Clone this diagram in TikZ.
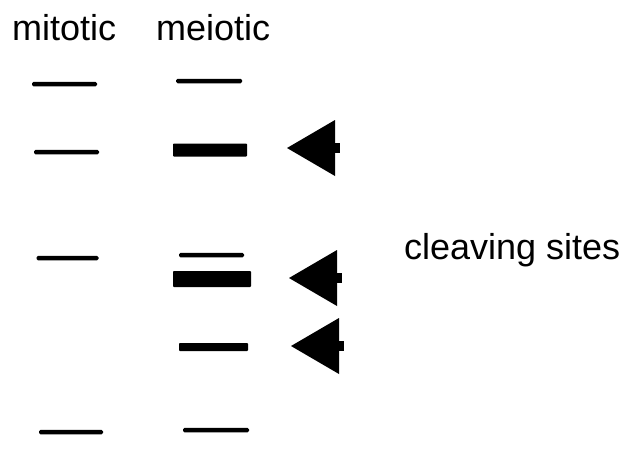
\documentclass[tikz,border=0pt]{standalone}
\usepackage{fontspec}
\setmainfont{Liberation Sans}
\begin{document}
\begin{tikzpicture}[x=1pt,y=-1pt,
  lbl/.style={anchor=base west,inner sep=0pt,font=\fontsize{36}{40}\selectfont},
  band/.style={fill=black,inner sep=0pt,rounded corners=1.5pt,minimum height=4.5pt},
  thickband/.style={fill=black,inner sep=0pt,rounded corners=0.8pt},
  pointer/.style={fill=black}]
\useasboundingbox (0,0) rectangle (632,450);
% lane titles
\node[lbl] (tmit) at (12,40) {mitotic};
\node[lbl] (tmei) at (156,40) {meiotic};
\node[lbl] (tcut) at (404,259) {cleaving sites};
% mitotic lane
\node[band,minimum width=65pt] (m1) at (64.5,84) {};
\node[band,minimum width=65pt] (m2) at (66.5,152) {};
\node[band,minimum width=62pt] (m3) at (67.5,258) {};
\node[band,minimum width=64pt] (m4) at (71,432) {};
% meiotic lane
\node[band,minimum width=66pt] (e1) at (209,81) {};
\node[thickband,minimum width=74pt,minimum height=13pt] (e2) at (210,150) {};
\node[band,minimum width=65pt] (e3) at (211.5,255) {};
\node[thickband,minimum width=78pt,minimum height=16pt] (e4) at (212,279) {};
\node[thickband,minimum width=69pt,minimum height=8pt] (e5) at (213.5,347) {};
\node[band,minimum width=66pt] (e6) at (216,430) {};
% pointers marking the cleaving sites
\coordinate (p1) at (287,148);
\coordinate (p2) at (289,278);
\coordinate (p3) at (291,346);
\foreach \p in {p1,p2,p3}{
  \fill[pointer] (\p) -- ++(48,-28) -- ++(0,56) -- cycle;
  \fill[pointer] ([shift={(46,-5)}]\p) rectangle ++(7,10);
}
\end{tikzpicture}
\end{document}
